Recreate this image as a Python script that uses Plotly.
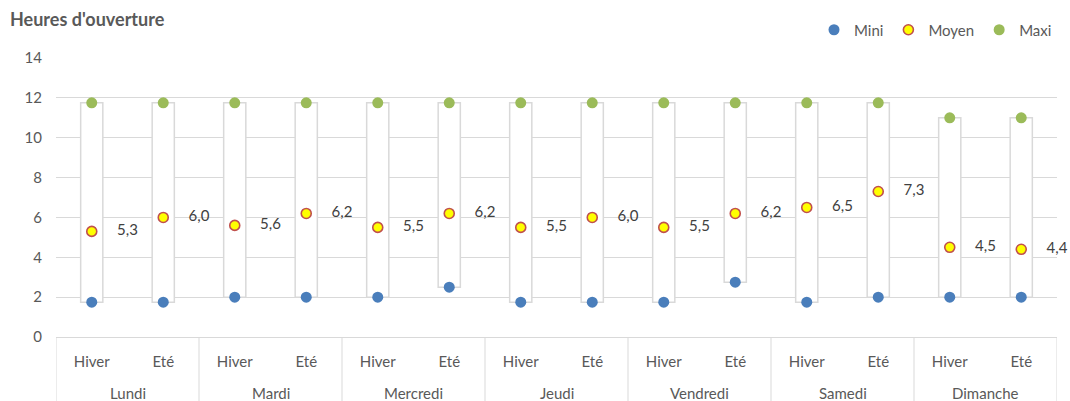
import numpy as np
import plotly.graph_objects as go

# Opening hours per day and season
jours = ["Lundi", "Mardi", "Mercredi", "Jeudi", "Vendredi", "Samedi", "Dimanche"]
saisons = ["Hiver", "Eté"]

mini = [1.75, 1.75, 2.0, 2.0, 2.0, 2.5, 1.75, 1.75, 1.75, 2.75, 1.75, 2.0, 2.0, 2.0]
moyen = [5.3, 6.0, 5.6, 6.2, 5.5, 6.2, 5.5, 6.0, 5.5, 6.2, 6.5, 7.3, 4.5, 4.4]
maxi = [11.75, 11.75, 11.75, 11.75, 11.75, 11.75, 11.75, 11.75, 11.75, 11.75, 11.75, 11.75, 11.0, 11.0]

n_s = len(saisons)
pos = np.arange(len(jours) * n_s)
inner_labels = [s for _ in jours for s in saisons]

FONT = "Lato"
FS = 15
GRID = "#d9d9d9"
TXT = "#595959"

fig = go.Figure()

# White range boxes from minimum to maximum
fig.add_trace(go.Bar(
    x=pos,
    y=[hi - lo for lo, hi in zip(mini, maxi)],
    base=mini,
    width=0.31,
    marker=dict(color="white", line=dict(color=GRID, width=1.5)),
    showlegend=False,
    hoverinfo="skip",
))

fig.add_trace(go.Scatter(
    x=pos, y=mini, mode="markers", name="Mini",
    marker=dict(color="#4a7ebb", size=11),
    cliponaxis=False,
))
fig.add_trace(go.Scatter(
    x=pos, y=moyen, mode="markers", name="Moyen",
    marker=dict(color="#ffff00", size=10, line=dict(color="#c0504d", width=1.6)),
    cliponaxis=False,
))
fig.add_trace(go.Scatter(
    x=pos, y=maxi, mode="markers", name="Maxi",
    marker=dict(color="#9bbb59", size=11),
    cliponaxis=False,
))

# Average values written between the two seasons
fig.add_trace(go.Scatter(
    x=pos + 0.5,
    y=moyen,
    mode="text",
    text=[f"{v:.1f}".replace(".", ",") for v in moyen],
    textfont=dict(family=FONT, size=FS, color="#404040"),
    showlegend=False,
    hoverinfo="skip",
    cliponaxis=False,
))

# Day names under the season labels, and the group dividers
for k, jour in enumerate(jours):
    fig.add_annotation(
        x=k * n_s + (n_s - 1) / 2, xref="x",
        y=-0.2, yref="paper", yanchor="middle",
        text=jour, showarrow=False,
        font=dict(family=FONT, size=FS, color=TXT),
    )
for k in range(len(jours) + 1):
    fig.add_shape(
        type="line", xref="x", yref="paper",
        x0=k * n_s - 0.5, x1=k * n_s - 0.5, y0=0, y1=-0.3,
        line=dict(color=GRID, width=1),
    )

fig.update_layout(
    width=1070,
    height=401,
    margin=dict(l=56, r=13, t=58, b=64, autoexpand=False),
    paper_bgcolor="white",
    plot_bgcolor="white",
    font=dict(family=FONT, size=FS, color=TXT),
    barmode="overlay",
    title=dict(
        text="<b>Heures d'ouverture</b>",
        font=dict(family=FONT, size=18, color=TXT),
        x=10 / 1070, xref="container", xanchor="left",
        y=1 - 20 / 401, yref="container", yanchor="middle",
    ),
    legend=dict(
        orientation="h",
        x=1.0, xanchor="right", xref="paper",
        y=1 - 30 / 401, yref="container", yanchor="middle",
        font=dict(family=FONT, size=FS, color=TXT),
        itemwidth=30,
        bgcolor="rgba(0,0,0,0)",
    ),
    xaxis=dict(
        range=[-0.5, len(pos) - 0.5],
        tickvals=pos,
        ticktext=inner_labels,
        showline=True, linecolor=GRID, linewidth=1,
        showgrid=False, zeroline=False,
        ticks="",
        ticklabelstandoff=11,
        tickfont=dict(family=FONT, size=FS, color=TXT),
    ),
    yaxis=dict(
        range=[0, 14],
        dtick=2,
        showgrid=True, gridcolor=GRID, gridwidth=1,
        zeroline=False,
        showline=False,
        ticks="",
        ticklabelstandoff=13,
        tickfont=dict(family=FONT, size=FS, color=TXT),
    ),
)

fig.write_html("out.html")
